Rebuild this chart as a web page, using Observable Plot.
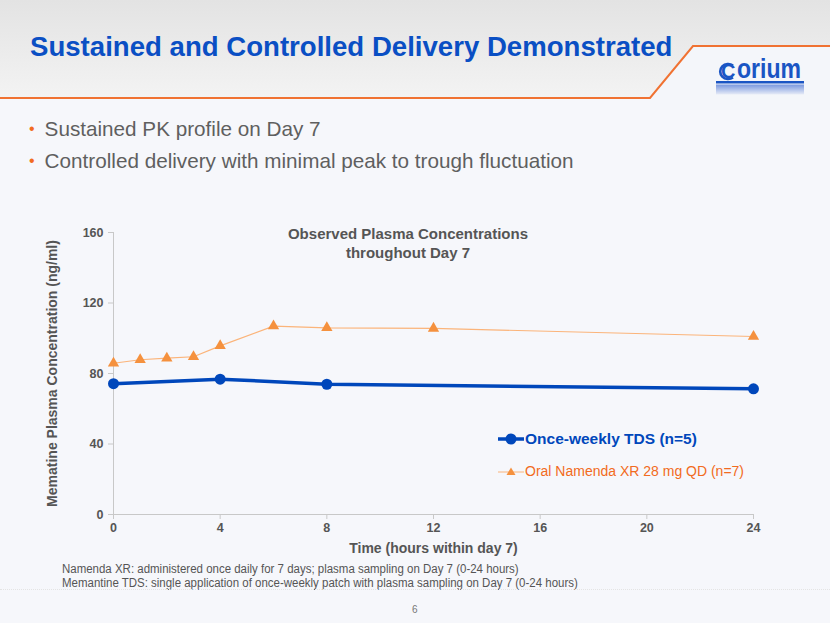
<!DOCTYPE html>
<html>
<head>
<meta charset="utf-8">
<script src="https://cdn.jsdelivr.net/npm/d3@7"></script>
<script src="https://cdn.jsdelivr.net/npm/@observablehq/plot@0.6"></script>
<style>
  html, body { margin:0; padding:0; }
  body { width:830px; height:623px; position:relative; overflow:hidden; background:#f6f7fb; font-family:"Liberation Sans", Arial, sans-serif; }
  .abs { position:absolute; white-space:nowrap; }
  #title { left:30px; top:31px; font-size:27.6px; font-weight:bold; color:#0a4fc4; }
  .bullet { left:29px; font-size:20.7px; color:#5f5f5f; }
  .bullet span { color:#f26b21; margin-right:10px; font-size:16px; position:relative; top:-2px; }
  #ctitle { left:258px; top:224px; width:300px; text-align:center; font-size:15px; font-weight:bold; color:#555; line-height:19px; }
  .foot { left:62px; font-size:12.5px; color:#555; transform:scaleX(0.918); transform-origin:0 0; }
  #chart { position:absolute; left:0; top:200px; }
  .leg { left:498px; display:flex; align-items:center; }
</style>
</head>
<body>
<svg class="abs" style="left:0;top:0" width="830" height="110">
  <defs>
    <linearGradient id="hg" x1="0" y1="0" x2="0" y2="1">
      <stop offset="0" stop-color="#e3e3e3"/>
      <stop offset="1" stop-color="#f3f3f3"/>
    </linearGradient>
    <linearGradient id="lg" x1="0" y1="0" x2="0" y2="1">
      <stop offset="0" stop-color="#5a80d8"/>
      <stop offset="1" stop-color="#e4e9f6"/>
    </linearGradient>
  </defs>
  <rect x="0" y="0" width="830" height="98" fill="url(#hg)"/>
  <polygon points="693,47 830,47 830,110 650,110 650,98" fill="#f4f6fa"/>
  <polyline points="0,98 650,98 693,46 830,46" fill="none" stroke="#f07232" stroke-width="2"/>
  <path d="M733,65.5 A8,7.5 0 1 0 733,77.5" fill="none" stroke="#1a55c4" stroke-width="2.6"/>
  <g font-family="Liberation Sans, Arial" font-weight="bold" fill="#1a55c4">
    <text x="721" y="78" font-size="20">C</text>
    <text x="737" y="78" font-size="28" textLength="64" lengthAdjust="spacingAndGlyphs">orium</text>
  </g>
  <rect x="716" y="81" width="88" height="2.5" fill="#1a55c4"/>
  <rect x="716" y="84.5" width="88" height="10" fill="url(#lg)" opacity="0.8"/>
</svg>
<div id="title" class="abs">Sustained and Controlled Delivery Demonstrated</div>
<div class="abs bullet" style="top:117px"><span>•</span>Sustained PK profile on Day 7</div>
<div class="abs bullet" style="top:149px"><span>•</span>Controlled delivery with minimal peak to trough fluctuation</div>
<div id="chart"></div>
<div id="ctitle" class="abs">Observed Plasma Concentrations<br>throughout Day 7</div>
<div class="abs leg" style="top:429px">
  <svg width="26" height="20"><line x1="0" y1="10" x2="26" y2="10" stroke="#0047bb" stroke-width="3.5"/><circle cx="13" cy="10" r="5.5" fill="#0047bb"/></svg>
  <span style="font-size:15.5px;font-weight:bold;color:#0047bb;margin-left:1px">Once-weekly TDS (n=5)</span>
</div>
<div class="abs leg" style="top:461px">
  <svg width="26" height="20"><line x1="0" y1="11" x2="26" y2="11" stroke="#fbb47a" stroke-width="1"/><path d="M13,6.5 L17.5,14 L8.5,14 Z" fill="#f5913e"/></svg>
  <span style="font-size:14px;color:#f26b21;margin-left:1px">Oral Namenda XR 28 mg QD (n=7)</span>
</div>
<div class="abs foot" style="top:562px">Namenda XR: administered once daily for 7 days; plasma sampling on Day 7 (0-24 hours)</div>
<div class="abs foot" style="top:576px">Memantine TDS: single application of once-weekly patch with plasma sampling on Day 7 (0-24 hours)</div>
<div class="abs" style="left:0;top:589px;width:830px;border-top:1px dotted #e4e4e4"></div>
<div class="abs" style="left:412px;top:604px;font-size:10px;color:#777">6</div>
<script>
const hoursTDS = [0, 4, 8, 24];
const concTDS = [74.2, 76.8, 73.9, 71.3];
const hoursOral = [0, 1, 2, 3, 4, 6, 8, 12, 24];
const concOral = [85.8, 87.8, 88.7, 89.5, 95.7, 106.9, 105.9, 105.6, 101.0];
const xTicks = [0, 4, 8, 12, 16, 20, 24];
const yTicks = [0, 40, 80, 120, 160];
const seriesNames = ["Once-weekly TDS (n=5)", "Oral Namenda XR 28 mg QD (n=7)"];
const xLabel = "Time (hours within day 7)";
const yLabel = "Mematine Plasma Concentration (ng/ml)";

const tds = hoursTDS.map((h, i) => ({hour: h, conc: concTDS[i], series: seriesNames[0]}));
const oral = hoursOral.map((h, i) => ({hour: h, conc: concOral[i], series: seriesNames[1]}));

const chart = Plot.plot({
  width: 830,
  height: 360,
  marginTop: 32,
  marginBottom: 46,
  marginLeft: 113,
  marginRight: 77,
  style: {background: "transparent", fontFamily: "Liberation Sans, Arial, sans-serif", fontSize: "12.5px", fontWeight: "bold", color: "#555"},
  x: {domain: [0, 24]},
  y: {domain: [0, 160]},
  marks: [
    Plot.ruleY([0], {stroke: "#c8c8c8", strokeWidth: 1}),
    Plot.ruleX([0], {stroke: "#c8c8c8", strokeWidth: 1}),
    Plot.axisX({ticks: xTicks, tickSize: 5, tickPadding: 4, stroke: "#c8c8c8", fill: "#555", label: null, tickFormat: d => d}),
    Plot.axisY({ticks: yTicks, tickSize: 5, tickPadding: 5, stroke: "#c8c8c8", fill: "#555", label: null, tickFormat: d => d}),
    Plot.text([xLabel], {frameAnchor: "bottom", dy: 34, fontSize: 14, fontWeight: "bold", fill: "#555", lineAnchor: "middle", textAnchor: "middle"}),
    Plot.text([yLabel], {frameAnchor: "left", dx: -61, rotate: -90, fontSize: 14, fontWeight: "bold", fill: "#555", lineAnchor: "middle", textAnchor: "middle"}),
    Plot.line(oral, {x: "hour", y: "conc", stroke: "#fbb47a", strokeWidth: 1.2}),
    Plot.dot(oral, {x: "hour", y: "conc", symbol: "triangle", r: 4.2, fill: "#f5913e", stroke: "none"}),
    Plot.line(tds, {x: "hour", y: "conc", stroke: "#0047bb", strokeWidth: 3.5}),
    Plot.dot(tds, {x: "hour", y: "conc", r: 5.5, fill: "#0047bb", stroke: "none"})
  ]
});
document.getElementById("chart").appendChild(chart);
</script>
</body>
</html>
